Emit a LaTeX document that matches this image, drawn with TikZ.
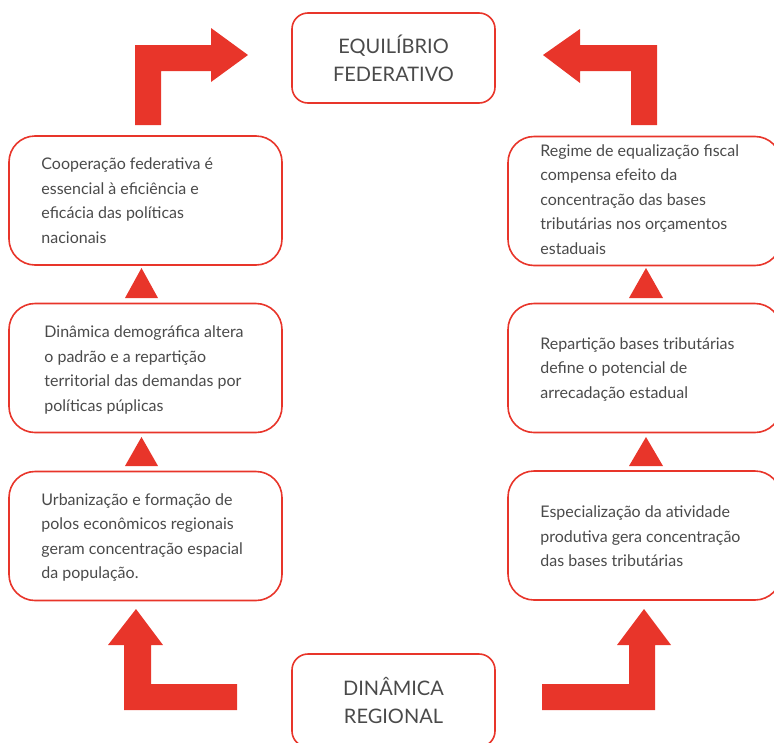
\documentclass[tikz,border=0pt]{standalone}
\usepackage{fontspec}
\setmainfont{Lato}
\definecolor{ared}{HTML}{E8352A}
\definecolor{tgray}{HTML}{4A4A4A}
\begin{document}
\begin{tikzpicture}[x=1pt,y=-1pt,
 sbox/.style={draw=ared, line width=1.6pt, rounded corners=26pt, minimum width=273pt, minimum height=129pt, inner sep=0pt},
 cbox/.style={draw=ared, line width=1.6pt, rounded corners=16pt, minimum width=203pt, minimum height=90pt, inner sep=0pt,
   align=center, text=tgray, font=\fontsize{20}{28}\selectfont},
 btxt/.style={anchor=west, align=left, text=tgray, font=\fontsize{16}{24.5}\selectfont, inner sep=0pt},
 blk/.style={fill=ared}]
\useasboundingbox (0,0) rectangle (774,742);
\clip (0,0) rectangle (774,742);

% side boxes
\node[sbox] (l1) at (145.5,200.5) {};
\node[sbox] (l2) at (145.5,368) {};
\node[sbox] (l3) at (145.5,536) {};
\node[sbox] (r1) at (644.5,201) {};
\node[sbox] (r2) at (644.5,368) {};
\node[sbox] (r3) at (644.5,535.5) {};

\node[btxt] (t1) at ([xshift=33pt]l1.west) {Cooperação federativa é\\essencial à eficiência e\\eficácia das políticas\\nacionais};
\node[btxt] (t2) at ([xshift=36pt,yshift=-2pt]l2.west) {Dinâmica demográfica altera\\o padrão e a repartição\\territorial das demandas por\\políticas púplicas};
\node[btxt] (t3) at ([xshift=33pt,yshift=-1.5pt]l3.west) {Urbanização e formação de\\polos econômicos regionais\\geram concentração espacial\\da população.};
\node[btxt] (t4) at ([xshift=33pt,yshift=1.5pt]r1.west) {Regime de equalização fiscal\\compensa efeito da\\concentração das bases\\tributárias nos orçamentos\\estaduais};
\node[btxt] (t5) at ([xshift=33pt,yshift=-1.5pt]r2.west) {Repartição bases tributárias\\define o potencial de\\arrecadação estadual};
\node[btxt] (t6) at ([xshift=33pt,yshift=-1pt]r3.west) {Especialização da atividade\\produtiva gera concentração\\das bases tributárias};

% centre boxes
\node[cbox] (top) at (393.5,58) {EQUILÍBRIO\\FEDERATIVO};
\node[cbox, minimum height=93pt] (bot) at (393.5,700.5) {DINÂMICA\\REGIONAL};

% small triangles
\fill[blk] (125,298) -- (141.5,268) -- (158,298) -- cycle;
\fill[blk] (125,466) -- (141.5,437) -- (158,466) -- cycle;
\fill[blk] (629,298) -- (646,268) -- (663,298) -- cycle;
\fill[blk] (629,466) -- (646,437) -- (663,466) -- cycle;

% bent arrows
\fill[blk] (135,125) -- (135,45) -- (211,45) -- (211,28) -- (248,55) -- (211,82) -- (211,71) -- (161,71) -- (161,125) -- cycle;
\fill[blk] (657,125) -- (657,45) -- (580,45) -- (580,29) -- (543,55) -- (580,83) -- (580,71) -- (631,71) -- (631,125) -- cycle;
\fill[blk] (124,710) -- (124,645) -- (108,645) -- (136,609) -- (163,645) -- (151,645) -- (151,684) -- (237,684) -- (237,710) -- cycle;
\fill[blk] (655,710) -- (655,645) -- (671,645) -- (644,609) -- (617,645) -- (629,645) -- (629,684) -- (542,684) -- (542,710) -- cycle;
\end{tikzpicture}
\end{document}
